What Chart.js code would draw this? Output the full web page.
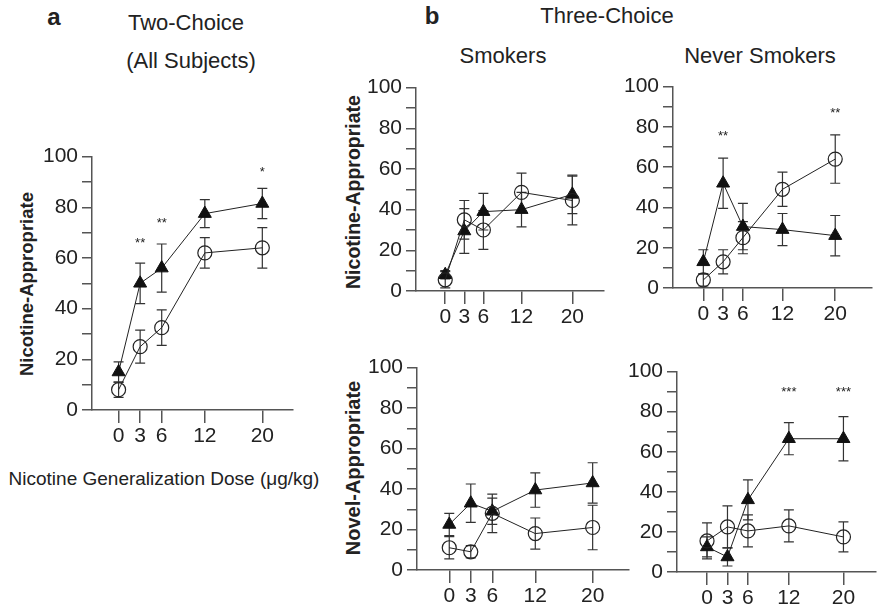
<!DOCTYPE html>
<html>
<head>
<meta charset="utf-8">
<script src="https://cdn.jsdelivr.net/npm/chart.js@4.4.0/dist/chart.umd.min.js"></script>
<style>
  body { margin: 0; background: #fff; }
  #wrap { position: relative; width: 883px; height: 614px; overflow: hidden; font-family: 'Liberation Sans', Arial, sans-serif; color: #222; }
  canvas { position: absolute; }
  .t { position: absolute; transform: translate(-50%, -50%); white-space: nowrap; font-size: 22px; }
  .b { font-weight: bold; }
  .rot { transform: translate(-50%, -50%) rotate(-90deg); font-weight: bold; font-size: 19.5px; }
</style>
</head>
<body>
<div id="wrap">
  <div class="t b" style="left:54px;top:17px;font-size:24px">a</div>
  <div class="t" style="left:186px;top:23px">Two-Choice</div>
  <div class="t" style="left:191px;top:61px">(All Subjects)</div>
  <div class="t b" style="left:432px;top:16px;font-size:24px">b</div>
  <div class="t" style="left:607px;top:16px">Three-Choice</div>
  <div class="t" style="left:503px;top:56px">Smokers</div>
  <div class="t" style="left:760px;top:56px">Never Smokers</div>
  <div class="t" style="left:164px;top:479px;font-size:19px">Nicotine Generalization Dose (μg/kg)</div>
  <div class="t rot" style="left:27px;top:284px;font-size:18.5px">Nicotine-Appropriate</div>
  <div class="t rot" style="left:353px;top:192px">Nicotine-Appropriate</div>
  <div class="t rot" style="left:353px;top:468px;font-size:20px">Novel-Appropriate</div>
  <canvas id="pa"></canvas>
  <canvas id="psn"></canvas>
  <canvas id="pnn"></canvas>
  <canvas id="psv"></canvas>
  <canvas id="pnv"></canvas>
</div>
<script>
// dose levels (ug/kg)
const doses = [0, 3, 6, 12, 20];
const tickDoses = [0, 3, 6, 12, 20];

// a: two-choice, all subjects
const aTri = [15, 50, 56, 77.5, 81.5];
const aTriErr = [4, 8, 9.5, 5.5, 6];
const aCirc = [8, 25, 32.5, 62, 64];
const aCircErr = [3, 6.5, 7, 6, 8];
const aStarX = [3, 6, 20];
const aStarY = [67, 75, 95];
const aStarTxt = ['**', '**', '*'];

// b: three-choice, smokers, nicotine-appropriate
const sNicTri = [8, 29.5, 39, 40, 47.5];
const sNicTriErr = [2, 11, 9, 8.5, 9.5];
const sNicCirc = [5.5, 35, 30, 48.5, 44.5];
const sNicCircErr = [4, 9.5, 9.5, 9.5, 12];

// b: never smokers, nicotine-appropriate
const nNicTri = [13, 52, 30.5, 29, 26];
const nNicTriErr = [6, 12.5, 11.5, 8, 10];
const nNicCirc = [4, 13, 25, 49, 64];
const nNicCircErr = [3, 6, 8, 8.5, 12];
const nNicStarX = [3, 20];
const nNicStarY = [77, 88];
const nNicStarTxt = ['**', '**'];

// b: smokers, novel-appropriate
const sNovTri = [22.5, 33, 29, 39.5, 43];
const sNovTriErr = [5.5, 9.5, 6.5, 8.5, 10];
const sNovCirc = [11, 9, 28, 18, 21];
const sNovCircErr = [5.5, 3, 9.5, 7.7, 11];

// b: never smokers, novel-appropriate
const nNovTri = [12.5, 7.5, 36, 66.5, 66.5];
const nNovTriErr = [5, 4.5, 10, 8, 11];
const nNovCirc = [15.5, 22.5, 20.5, 23, 17.5];
const nNovCircErr = [9, 10.5, 8, 8, 7.5];
const nNovStarX = [12, 20];
const nNovStarY = [91, 91];
const nNovStarTxt = ['***', '***'];

const FONT = "'Liberation Sans', Arial, sans-serif";
const AX = '#555';

const errorBars = {
  id: 'errorBars',
  beforeDatasetsDraw(chart) {
    const ctx = chart.ctx;
    const y = chart.scales.y;
    ctx.save();
    ctx.strokeStyle = '#333';
    ctx.lineWidth = 1.2;
    chart.data.datasets.forEach((ds, i) => {
      const meta = chart.getDatasetMeta(i);
      meta.data.forEach((pt, j) => {
        const v = ds.data[j].y, e = ds.errors[j];
        const y1 = y.getPixelForValue(v - e), y2 = y.getPixelForValue(v + e);
        ctx.beginPath();
        ctx.moveTo(pt.x, y1); ctx.lineTo(pt.x, y2);
        ctx.moveTo(pt.x - 5, y1); ctx.lineTo(pt.x + 5, y1);
        ctx.moveTo(pt.x - 5, y2); ctx.lineTo(pt.x + 5, y2);
        ctx.stroke();
      });
    });
    ctx.restore();
  },
  afterDatasetsDraw(chart, args, opts) {
    if (!opts.x) return;
    const ctx = chart.ctx;
    ctx.save();
    ctx.fillStyle = '#222';
    ctx.font = '13px ' + FONT;
    ctx.textAlign = 'center';
    ctx.textBaseline = 'middle';
    opts.x.forEach((xv, k) => {
      ctx.fillText(opts.txt[k], chart.scales.x.getPixelForValue(xv), chart.scales.y.getPixelForValue(opts.y[k]) + 3);
    });
    ctx.restore();
  }
};

function panel(id, box, xr, tri, triErr, circ, circErr, stars) {
  const cv = document.getElementById(id);
  cv.width = box.r - box.l + 64;
  cv.height = box.b - box.t + 56;
  cv.style.left = (box.l - 60) + 'px';
  cv.style.top = (box.t - 16) + 'px';
  const pts = vals => doses.map((d, i) => ({ x: d, y: vals[i] }));
  new Chart(cv, {
    type: 'scatter',
    data: {
      datasets: [
        {
          data: pts(circ), errors: circErr, showLine: true,
          borderColor: '#222', borderWidth: 1, backgroundColor: 'rgba(0,0,0,0)',
          pointStyle: 'circle', pointRadius: 7, pointBorderWidth: 1.2,
          pointBorderColor: '#222', pointBackgroundColor: 'rgba(0,0,0,0)', clip: false
        },
        {
          data: pts(tri), errors: triErr, showLine: true,
          borderColor: '#222', borderWidth: 1, backgroundColor: '#111',
          pointStyle: 'triangle', pointRadius: 7.5, pointBorderWidth: 1,
          pointBorderColor: '#111', pointBackgroundColor: '#111', clip: false
        }
      ]
    },
    options: {
      responsive: false,
      animation: false,
      layout: { padding: { top: 16, right: 4, left: 0, bottom: 0 } },
      plugins: {
        legend: { display: false },
        tooltip: { enabled: false },
        errorBars: stars || {}
      },
      scales: {
        x: {
          type: 'linear', min: xr[0], max: xr[1],
          afterBuildTicks: s => { s.ticks = tickDoses.map(v => ({ value: v })); },
          afterFit: s => { s.height = 40; },
          ticks: { autoSkip: false, maxRotation: 0, padding: 1, color: '#222', font: { family: FONT, size: 21 }, callback: v => String(v) },
          grid: { drawOnChartArea: false, drawTicks: true, tickLength: 13, color: AX, lineWidth: 1.5 },
          border: { display: true, color: AX, width: 1.5 }
        },
        y: {
          min: 0, max: 100,
          afterFit: s => { s.width = 60; },
          ticks: { stepSize: 10, autoSkip: false, padding: 4, color: '#222', font: { family: FONT, size: 21 }, callback: v => (v % 20 === 0 ? String(v) : '') },
          grid: { drawOnChartArea: false, drawTicks: true, tickLength: 10, color: AX, lineWidth: 1.5 },
          border: { display: true, color: AX, width: 1.5 }
        }
      }
    },
    plugins: [errorBars]
  });
}

panel('pa', { l: 92, r: 297, t: 156, b: 410 }, [-3.7, 24.2], aTri, aTriErr, aCirc, aCircErr,
  { x: aStarX, y: aStarY, txt: aStarTxt });
panel('psn', { l: 416, r: 608, t: 87, b: 291 }, [-4.6, 24.9], sNicTri, sNicTriErr, sNicCirc, sNicCircErr);
panel('pnn', { l: 673, r: 876, t: 86, b: 288 }, [-4.6, 25.5], nNicTri, nNicTriErr, nNicCirc, nNicCircErr,
  { x: nNicStarX, y: nNicStarY, txt: nNicStarTxt });
panel('psv', { l: 417, r: 633, t: 367, b: 570 }, [-4.5, 25], sNovTri, sNovTriErr, sNovCirc, sNovCircErr);
panel('pnv', { l: 677, r: 880, t: 371, b: 572 }, [-4.4, 24.7], nNovTri, nNovTriErr, nNovCirc, nNovCircErr,
  { x: nNovStarX, y: nNovStarY, txt: nNovStarTxt });
</script>
</body>
</html>
